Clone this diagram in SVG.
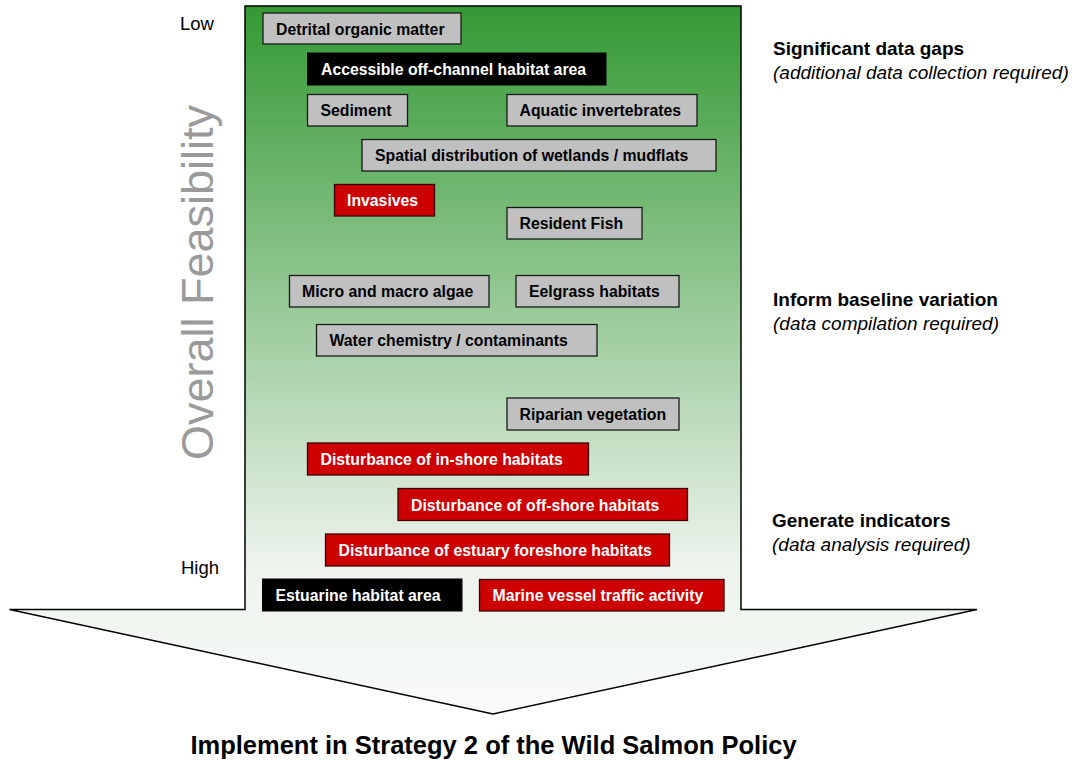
<svg xmlns="http://www.w3.org/2000/svg" width="1077" height="761" viewBox="0 0 1077 761">
<defs>
<linearGradient id="g" gradientUnits="userSpaceOnUse" x1="0" y1="6" x2="0" y2="714">
<stop offset="0" stop-color="#339933"/>
<stop offset="0.78" stop-color="#ebf2eb"/>
<stop offset="1" stop-color="#f8fbf8"/>
</linearGradient>
</defs>
<style>
.bx text{font-family:"Liberation Sans",Arial,sans-serif;font-weight:bold;font-size:15.8px}
.gray rect{fill:#c0c0c0;stroke:#1a1a1a;stroke-width:1.3}
.gray text{fill:#000}
.red rect{fill:#cc0000;stroke:#3a0000;stroke-width:1.3}
.red text{fill:#fff}
.blk rect{fill:#000;stroke:#000;stroke-width:1}
.blk text{fill:#fff}
.lbl{font-family:"Liberation Sans",Arial,sans-serif;font-size:19px;fill:#000}
.lb{font-weight:bold}
.li{font-style:italic}
.ax{font-family:"Liberation Sans",Arial,sans-serif;font-size:18.5px;fill:#000}
</style>
<g id="arrow">
<polygon points="245,6 741,6 741,609.5 977,609.5 493,714 9.5,609.5 245,609.5" fill="url(#g)" stroke="#000" stroke-width="1.5" stroke-linejoin="miter"/>
</g>
<g id="connectors"/>
<g id="n1" class="bx gray"><rect x="263" y="13" width="198" height="31"/><text x="276" y="34.5">Detrital organic matter</text></g>
<g id="n2" class="bx blk"><rect x="307.5" y="53" width="298.5" height="32"/><text x="321" y="75">Accessible off-channel habitat area</text></g>
<g id="n3" class="bx gray"><rect x="307.5" y="94.5" width="100" height="31.5"/><text x="320.5" y="116">Sediment</text></g>
<g id="n4" class="bx gray"><rect x="507" y="94.5" width="190" height="31.5"/><text x="519.5" y="116">Aquatic invertebrates</text></g>
<g id="n5" class="bx gray"><rect x="362" y="139.5" width="354" height="31.5"/><text x="375" y="161">Spatial distribution of wetlands / mudflats</text></g>
<g id="n6" class="bx red"><rect x="334.5" y="184.5" width="100" height="31.5"/><text x="347" y="206">Invasives</text></g>
<g id="n7" class="bx gray"><rect x="507" y="207.5" width="135" height="31.5"/><text x="519.5" y="229">Resident Fish</text></g>
<g id="n8" class="bx gray"><rect x="289.5" y="275.5" width="199.5" height="31.5"/><text x="302" y="297">Micro and macro algae</text></g>
<g id="n9" class="bx gray"><rect x="516" y="275.5" width="163" height="31.5"/><text x="529" y="297">Eelgrass habitats</text></g>
<g id="n10" class="bx gray"><rect x="316.5" y="324.5" width="280.5" height="31.5"/><text x="329.5" y="346">Water chemistry / contaminants</text></g>
<g id="n11" class="bx gray"><rect x="507" y="398" width="172" height="32"/><text x="519.5" y="420">Riparian vegetation</text></g>
<g id="n12" class="bx red"><rect x="307.5" y="443" width="281" height="32"/><text x="320.5" y="465">Disturbance of in-shore habitats</text></g>
<g id="n13" class="bx red"><rect x="398" y="488.5" width="289.5" height="32"/><text x="411" y="510.5">Disturbance of off-shore habitats</text></g>
<g id="n14" class="bx red"><rect x="325.5" y="534" width="344" height="32"/><text x="338.5" y="556">Disturbance of estuary foreshore habitats</text></g>
<g id="n15" class="bx blk"><rect x="262.5" y="579" width="199.5" height="32"/><text x="275.5" y="601">Estuarine habitat area</text></g>
<g id="n16" class="bx red"><rect x="479.5" y="579.5" width="244.5" height="31.5"/><text x="492.5" y="601">Marine vessel traffic activity</text></g>
<g id="axis">
<text class="ax" x="180" y="29.5">Low</text>
<text class="ax" x="181" y="574">High</text>
<text x="213" y="282.5" transform="rotate(-90 213 282.5)" text-anchor="middle" style="font-family:'Liberation Sans',Arial,sans-serif;font-size:45px;fill:#9a9a9a">Overall Feasibility</text>
</g>
<g id="labels">
<text class="lbl lb" x="773" y="54.5">Significant data gaps</text>
<text class="lbl li" x="773" y="78.5">(additional data collection required)</text>
<text class="lbl lb" x="773" y="305.5">Inform baseline variation</text>
<text class="lbl li" x="773" y="329.5">(data compilation required)</text>
<text class="lbl lb" x="772" y="527">Generate indicators</text>
<text class="lbl li" x="772" y="551">(data analysis required)</text>
</g>
<text x="493.5" y="754" text-anchor="middle" style="font-family:'Liberation Sans',Arial,sans-serif;font-weight:bold;font-size:25.5px;fill:#000">Implement in Strategy 2 of the Wild Salmon Policy</text>
</svg>
